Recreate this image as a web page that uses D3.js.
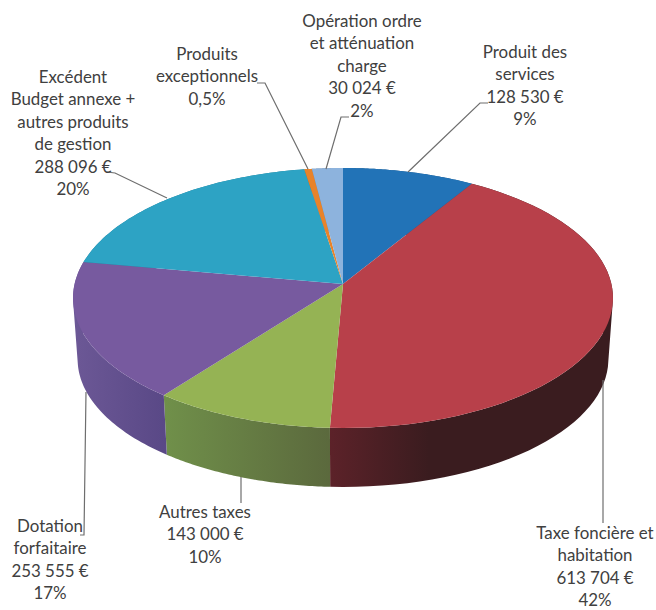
<!DOCTYPE html>
<html lang="fr">
<head>
<meta charset="utf-8">
<script src="https://d3js.org/d3.v7.min.js"></script>
<style>
html,body{margin:0;padding:0;background:#fff;}
svg{display:block;}
text{font-family:Lato,"Open Sans",sans-serif;font-size:16.9px;fill:#404040;text-anchor:middle;}
</style>
</head>
<body>
<svg id="chart" width="656" height="610"></svg>
<script>
// Data, in clockwise drawing order from 12 o'clock
const categories = ["Produit des services","Taxe foncière et habitation","Autres taxes","Dotation forfaitaire",
  "Excédent Budget annexe + autres produits de gestion","Produits exceptionnels","Opération ordre et atténuation charge"];
const values = [128530, 613704, 143000, 253555, 288096, 7300, 30024];

// Label text
const labelLines = [
  ["Produit des","services","128 530 €","9%"],
  ["Taxe foncière et","habitation","613 704 €","42%"],
  ["Autres taxes","143 000 €","10%"],
  ["Dotation","forfaitaire","253 555 €","17%"],
  ["Excédent","Budget annexe +","autres produits","de gestion","288 096 €","20%"],
  ["Produits","exceptionnels","0,5%"],
  ["Opération ordre","et atténuation","charge","30 024 €","2%"]
];

// Styles
const topColors  = ["#2273b7","#b8404a","#95b354","#775a9f","#2da3c4","#e8832a","#8db3dd"];
const sideFrom   = ["#1a5688","#5c2229","#70904a","#6c5896","#217c95","#ad6220","#6a86a6"];
const sideTo     = ["#1a5688","#3a1c1f","#5b693d","#594886","#217c95","#ad6220","#6a86a6"];

// Layout
const labelX = [525, 595, 205, 50, 73, 207, 362];
const labelY = [58, 539, 518, 532, 83, 60, 27];
const lineStep = 22.4;
const leaders = [
  [[488,103],[480,103],[408,172]],
  [[603,523],[603,380]],
  [[241,477],[241,503]],
  [[86,392],[84,535],[80,535]],
  [[107,172],[115,173],[167,198]],
  [[257,83],[265,83],[308,169]],
  [[349,117],[341,117],[326,169]]
];
const apex = {x:343, y:284};
const floorApex = {x:343, y:345.4};
const floorScale = 0.983;
const persp = {a:268.4, b:128.5, k:0.1077};
const steps = 60;

// Perspective projection of the pie disc onto the screen
function project(theta, r, c, s){
  const u = r*Math.sin(theta), v = r*Math.cos(theta), d = 1 + persp.k*v;
  return [c.x + s*persp.a*u/d, c.y - s*persp.b*v/d];
}
const svg = d3.select("#chart");
const defs = svg.append("defs");
const arcs = d3.pie().sort(null).value(d=>d)(values);
const line = d3.line();
const rim = (a, c, s) => d3.range(0, steps+1).map(i => project(a.startAngle + (a.endAngle-a.startAngle)*i/steps, 1, c, s));

// Side walls: one path of same-winding quads per slice, so that the silhouette
// between the top rim and the floor rim stays closed and no seams appear
arcs.forEach((a,i)=>{
  const top = rim(a, apex, 1), bottom = rim(a, floorApex, floorScale);
  const ext = d3.extent(top.concat(bottom), p=>p[0]);
  const g = defs.append("linearGradient").attr("id","side"+i)
    .attr("gradientUnits","userSpaceOnUse")
    .attr("x1",ext[0]).attr("x2",ext[1]).attr("y1",0).attr("y2",0);
  g.append("stop").attr("offset",0).attr("stop-color",sideFrom[i]);
  g.append("stop").attr("offset",i===1?0.35:1).attr("stop-color",sideTo[i]);
  const quads = d3.range(steps).map(j=>{
    const q = [top[j],top[j+1],bottom[j+1],bottom[j]];
    return d3.polygonArea(q) < 0 ? q.reverse() : q;
  });
  svg.append("path")
    .attr("d",quads.map(q=>line(q)+"Z").join(""))
    .attr("fill","url(#side"+i+")")
    .attr("fill-rule","nonzero");
});

// Top faces
svg.append("g").selectAll("path").data(arcs).join("path")
  .attr("d",a=>line([[apex.x,apex.y]].concat(rim(a,apex,1)))+"Z")
  .attr("fill",(a,i)=>topColors[i]);

// Leader lines
svg.append("g").selectAll("path").data(leaders).join("path")
  .attr("d",d=>line(d)).attr("fill","none").attr("stroke","#6e6e6e").attr("stroke-width",1.2);

// Labels
labelLines.forEach((lines,i)=>{
  const t = svg.append("text").attr("aria-label",categories[i]);
  lines.forEach((s,j)=>{
    t.append("tspan").attr("x",labelX[i]).attr("y",labelY[i]+j*lineStep).text(s);
  });
});
</script>
</body>
</html>
